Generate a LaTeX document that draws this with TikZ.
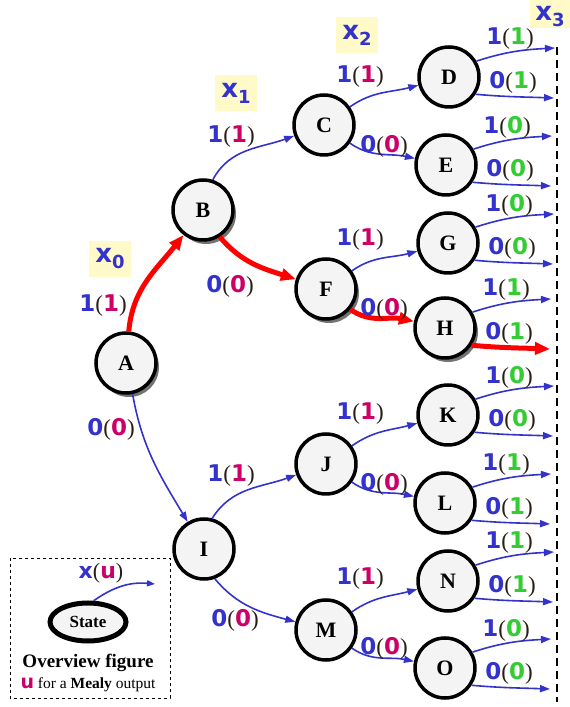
\documentclass[tikz,border=0pt]{standalone}
\usepackage{fontspec}
\setmainfont{Liberation Serif}
\newfontfamily\dvs{DejaVu Sans}
\usetikzlibrary{arrows.meta,shapes.geometric,calc,shadows}
\definecolor{lblue}{RGB}{51,51,204}
\definecolor{mag}{RGB}{204,0,102}
\definecolor{grn}{RGB}{51,204,51}
\definecolor{ybox}{RGB}{255,250,200}
\definecolor{nfill}{RGB}{244,244,244}
\definecolor{par}{RGB}{40,30,20}
\newcommand{\io}[3]{\textcolor{lblue}{\dvs\bfseries #1}\textcolor{par}{(}\textcolor{#3}{\dvs\bfseries #2}\textcolor{par}{)}}
\newcommand{\xlab}[1]{x\raisebox{-6pt}{\fontsize{18}{18}\selectfont #1}}
\tikzset{
  st/.style={circle, draw, line width=3.5pt, fill=nfill, minimum size=60pt, inner sep=0pt, font=\fontsize{22}{24}\selectfont\bfseries},
  shd/.style={drop shadow={shadow xshift=3pt, shadow yshift=-4pt, fill=black!55, opacity=1}},
  tr/.style={-{Triangle[length=10pt,width=7pt]}, line width=1.6pt, draw=lblue},
  rd/.style={-{Triangle[length=15pt,width=12pt]}, line width=5pt, draw=red},
  lbl/.style={font=\fontsize{23}{24}\selectfont, inner sep=0pt},
  xbox/.style={fill=ybox, minimum width=42pt, minimum height=36pt, inner sep=0pt, text=lblue, font=\dvs\bfseries\fontsize{26}{26}\selectfont}
}
\newcommand{\leaf}[4]{%
  \coordinate (#1u) at ($(#1)+(106,29)$);
  \coordinate (#1d) at ($(#1)+(105,-21)$);
  \draw[tr] (#1.30) to[out=18,in=183] (#1u);
  \draw[#4] (#1.-33) to[out=-5,in=178] (#1d);
  \node[lbl] at ($(#1)+(61,38)$) {\io{1}{#2}{grn}};
  \node[lbl] at ($(#1)+(64,-5)$) {\io{0}{#3}{grn}};
}
\begin{document}
\begin{tikzpicture}[x=1pt,y=1pt]
\clip (0,0) rectangle (570,707);
\fill[white] (0,0) rectangle (570,707);
% x labels
\node[xbox] (x0) at (110,448) {\xlab{0}};
\node[xbox] (x1) at (236,614) {\xlab{1}};
\node[xbox] (x2) at (357,672) {\xlab{2}};
\fill[ybox] (530,679) rectangle (575,710);
\node[inner sep=0pt, text=lblue, font=\dvs\bfseries\fontsize{26}{26}\selectfont] (x3) at (550,690) {\xlab{3}};
% dashed line
\draw[dash pattern=on 8pt off 5pt, line width=1.8pt] (557,660) -- (557,5);
% nodes
\node[st,shd] (A) at (126,344) {A};
\node[st,shd] (B) at (203,497) {B};
\node[st] (C) at (324,582) {C};
\node[st] (D) at (449,630) {D};
\node[st] (E) at (446,542) {E};
\node[st,shd] (F) at (326,418) {F};
\node[st] (G) at (448,464) {G};
\node[st,shd] (H) at (445,379) {H};
\node[st] (I) at (204,158) {I};
\node[st] (J) at (326,243) {J};
\node[st] (K) at (448,292) {K};
\node[st] (L) at (445,204) {L};
\node[st] (M) at (326,77) {M};
\node[st] (N) at (448,126) {N};
\node[st] (O) at (445,39) {O};
% edges
\draw[rd] (A.85) to[out=85,in=232] (B);
\draw[tr] (A.-78) to[out=-80,in=121] (I);
\draw[tr] (B.72) to[out=62,in=200] (C);
\draw[rd] (B.-58) to[out=-50,in=162] (F);
\draw[tr] (C) to[out=35,in=195] (D);
\draw[tr] (C) to[out=-35,in=168] (E);
\draw[tr] (F) to[out=35,in=195] (G);
\draw[rd] (F.-40) to[out=-35,in=168] (H);
\draw[tr] (I.75) to[out=58,in=200] (J);
\draw[tr] (I.-70) to[out=-50,in=165] (M);
\draw[tr] (J) to[out=35,in=195] (K);
\draw[tr] (J) to[out=-35,in=168] (L);
\draw[tr] (M) to[out=35,in=195] (N);
\draw[tr] (M) to[out=-35,in=168] (O);
% edge labels
\node[lbl] at (103,401) {\io{1}{1}{mag}};
\node[lbl] at (111,278) {\io{0}{0}{mag}};
\node[lbl] at (231,570) {\io{1}{1}{mag}};
\node[lbl] at (230,421) {\io{0}{0}{mag}};
\node[lbl] at (360,630) {\io{1}{1}{mag}};
\node[lbl] at (384,561) {\io{0}{0}{mag}};
\node[lbl] at (360,467) {\io{1}{1}{mag}};
\node[lbl] at (384,398) {\io{0}{0}{mag}};
\node[lbl] at (231,231) {\io{1}{1}{mag}};
\node[lbl] at (235,87) {\io{0}{0}{mag}};
\node[lbl] at (360,293) {\io{1}{1}{mag}};
\node[lbl] at (384,223) {\io{0}{0}{mag}};
\node[lbl] at (360,128) {\io{1}{1}{mag}};
\node[lbl] at (384,59) {\io{0}{0}{mag}};
% leaves
\leaf{D}{1}{1}{tr}
\leaf{E}{0}{0}{tr}
\leaf{G}{0}{0}{tr}
\leaf{H}{1}{1}{rd}
\leaf{K}{0}{0}{tr}
\leaf{L}{1}{1}{tr}
\leaf{N}{1}{1}{tr}
\leaf{O}{0}{0}{tr}
% legend
\draw[dashed, line width=0.8pt] (10,149) rectangle (170,9);
\node[ellipse, draw, line width=5pt, fill=nfill, minimum width=76pt, minimum height=38pt, inner sep=0pt, font=\fontsize{17}{18}\selectfont\bfseries] (S) at (88,85) {State};
\coordinate (Sx) at (155,123);
\draw[tr, -{Triangle[length=8pt,width=6pt]}] (S.75) to[out=35,in=175] (Sx);
\node[lbl, font=\fontsize{22}{22}\selectfont] (xu) at (101,134) {\textcolor{lblue}{\dvs\bfseries x}\textcolor{par}{(}\textcolor{mag}{\dvs\bfseries u}\textcolor{par}{)}};
\node[inner sep=0pt, font=\fontsize{19}{20}\selectfont\bfseries] (ov) at (88,44) {Overview figure};
\node[inner sep=0pt, font=\fontsize{15.5}{17}\selectfont] (me) at (88,22) {\textcolor{mag}{\dvs\bfseries\fontsize{19}{19}\selectfont u} for a \textbf{Mealy} output};
\end{tikzpicture}
\end{document}
